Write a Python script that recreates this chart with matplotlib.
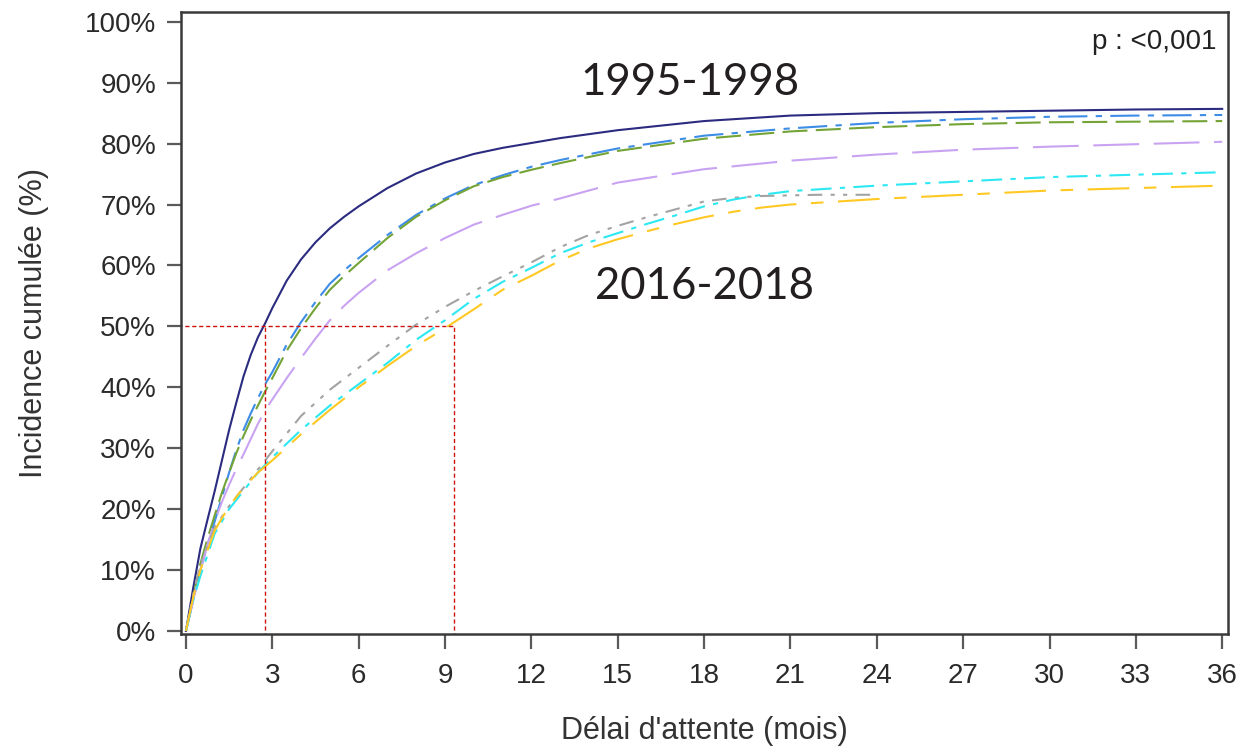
import numpy as np
import matplotlib.pyplot as plt

plt.rcParams['font.family'] = ['Liberation Sans', 'DejaVu Sans']

# Cumulative incidence (%) by waiting time (months), one curve per period
months = [0, 0.25, 0.5, 0.75, 1, 1.25, 1.5, 1.75, 2, 2.25, 2.5, 2.75, 3, 3.5, 4, 4.5,
          5, 5.5, 6, 7, 8, 9, 10, 11, 12, 13, 15, 18, 21, 24, 27, 30, 33, 36]
navy = [0, 7, 13.5, 18.3, 23, 28, 33, 37.5, 41.8, 45.3, 48.2, 50.5, 53, 57.5, 61,
        63.8, 66.1, 68, 69.7, 72.7, 75.1, 76.9, 78.3, 79.3, 80.1, 80.9, 82.2, 83.7,
        84.6, 85, 85.2, 85.4, 85.6, 85.7]
blue = [0, 5, 10, 14.2, 18, 22, 26, 29.7, 33, 35.7, 38.2, 40.5, 42.5, 47, 50.7, 54,
        57, 59.2, 61.2, 65, 68.3, 71, 73.2, 74.8, 76.2, 77.3, 79.2, 81.3, 82.5, 83.4,
        84, 84.4, 84.6, 84.7]
green = [0, 5.5, 11, 15.2, 19, 22.7, 26, 29.2, 32, 34.6, 37, 39.3, 41.5, 46, 49.7,
         53, 56, 58.3, 60.4, 64.5, 68, 70.7, 73, 74.5, 75.7, 76.8, 78.8, 80.8, 82,
         82.7, 83.2, 83.5, 83.6, 83.7]
lavender = [0, 5, 10, 14.2, 18, 21.2, 24, 26.6, 29, 31.5, 34, 36.2, 38, 41.5, 44.8,
            48, 51, 53.4, 55.5, 59.2, 62, 64.5, 66.7, 68.3, 69.8, 71, 73.6, 75.8, 77.2,
            78.2, 79, 79.5, 79.9, 80.3]

months_late = [0, 0.25, 0.5, 1, 1.5, 2, 2.5, 3, 4, 5, 6, 7, 8, 9, 10, 11, 12, 13, 14,
               15, 16, 17, 18, 19, 20, 21, 24, 27, 30, 33, 36]
cyan = [0, 5, 9, 16, 20, 23, 26, 28.5, 33, 37, 40.5, 44, 47.8, 51, 54.5, 57.3, 59.6,
        62, 63.8, 65.3, 66.8, 68.2, 69.7, 70.8, 71.6, 72.2, 73.1, 73.8, 74.5, 74.9, 75.3]
gold = [0, 5.5, 10, 16.5, 20.5, 23.5, 26, 28, 32.3, 36.3, 40, 43.5, 46.8, 49.7, 52.8,
        56, 58.3, 60.8, 62.8, 64.3, 65.6, 66.8, 67.9, 68.8, 69.5, 70, 70.9, 71.6, 72.3,
        72.7, 73.1]

months_gray = [0, 0.25, 0.5, 1, 1.5, 2, 2.5, 3, 4, 5, 6, 7, 8, 9, 10, 11, 12, 13, 14,
               15, 16, 17, 18, 19, 20, 21, 22, 23, 24]
gray = [0, 6, 11, 17, 20.5, 23.5, 26.5, 29.5, 35.3, 39.6, 43.2, 46.8, 50.3, 53.2, 55.8,
        58.2, 60.5, 63, 65, 66.5, 67.9, 69.2, 70.5, 71.1, 71.4, 71.5, 71.6, 71.6, 71.6]

median_early = 2.75
median_late = 9.3

fig = plt.figure(figsize=(12.41, 7.51), dpi=100)
ax = fig.add_axes([0.1459, 0.1558, 0.8436, 0.8282])

lw = 1.5
ax.plot(months, navy, color='#2b2b80', lw=lw, solid_joinstyle='round')
ax.plot(months, blue, color='#3d8ce6', lw=lw, dashes=(14, 4, 3, 4))
ax.plot(months, green, color='#74a336', lw=lw, dashes=(12, 4))
ax.plot(months, lavender, color='#c9a3f2', lw=lw, dashes=(22, 7))
ax.plot(months_gray, gray, color='#a3a3a3', lw=lw, dashes=(7, 4, 2, 4, 2, 4))
ax.plot(months_late, cyan, color='#2ce8f2', lw=lw, dashes=(10, 4, 2.5, 4))
ax.plot(months_late, gold, color='#ffc823', lw=lw, dashes=(20, 7, 6, 7))

# median waiting time guides
red = '#cc1111'
ax.plot([-1, median_late], [50, 50], color=red, lw=1, dashes=(3, 2))
ax.plot([median_early, median_early], [-1, 50], color=red, lw=1, dashes=(3, 2))
ax.plot([median_late, median_late], [-1, 50], color=red, lw=1, dashes=(3, 2))

ax.set_xlim(-0.17, 36.2)
ax.set_ylim(-0.5, 101.6)
ax.set_xticks(np.arange(0, 37, 3))
ax.set_yticks(np.arange(0, 101, 10))
ax.set_yticklabels([f'{v}%' for v in range(0, 101, 10)])

for s in ax.spines.values():
    s.set_linewidth(1.8)
    s.set_color('#3a3a3a')
ax.tick_params(direction='out', width=1.6, color='#5a5a5a', labelcolor='#2a2a2a',
               labelsize=20)
ax.tick_params(axis='x', length=11, pad=10)
ax.tick_params(axis='y', length=10, pad=8)

ax.set_xlabel("Délai d'attente (mois)", fontsize=22, color='#333333', labelpad=19)
ax.set_ylabel('Incidence cumulée (%)', fontsize=22, color='#333333', labelpad=26)

ax.text(0.9895, 0.952, 'p : <0,001', transform=ax.transAxes, ha='right', va='center',
        fontsize=20, color='#222222')
ax.text(17.5, 90.1, '1995-1998', ha='center', va='center', fontsize=31.5,
        family=['Lato', 'DejaVu Sans'], color='#231f20')
ax.text(18.0, 56.5, '2016-2018', ha='center', va='center', fontsize=31.5,
        family=['Lato', 'DejaVu Sans'], color='#231f20')

fig.savefig('out.png', dpi=100)
